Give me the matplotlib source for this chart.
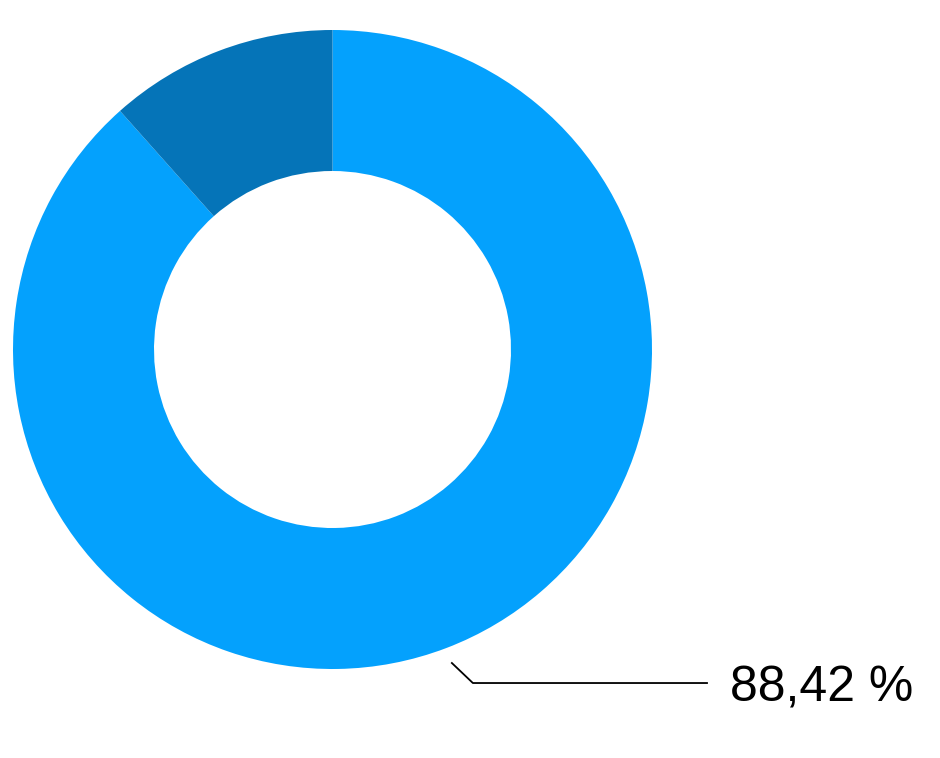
import numpy as np
import matplotlib.pyplot as plt

# shares of the donut, clockwise from 12 o'clock
values = [88.42, 11.58]
colors = ['#04A1FD', '#0574B8']
label = '88,42 %'

fig = plt.figure(figsize=(9.4, 7.58), dpi=100)
ax = fig.add_axes([0, 0, 1, 1])

cx, cy, R = 332.5, 758 - 349.5, 319.5
ax.pie(values, colors=colors, startangle=90, counterclock=False,
       center=(cx, cy), radius=R, frame=True,
       wedgeprops=dict(width=141, linewidth=0))
ax.set_xlim(0, 940)
ax.set_ylim(0, 758)
ax.set_aspect('equal')
ax.axis('off')

# leader line for the big slice
mid = np.deg2rad(90 - 360 * values[0] / sum(values) / 2)
p1 = np.array([cx, cy]) + 1.05 * R * np.array([np.cos(mid), np.sin(mid)])
p2 = p1 + np.array([21, -20])
ax.plot([p1[0], p2[0], 707], [p1[1], p2[1], p2[1]], color='black', lw=1.3)
ax.text(730, p2[1], label, fontsize=36, family='Liberation Sans',
        ha='left', va='center_baseline')

fig.savefig('out.png', dpi=100)
